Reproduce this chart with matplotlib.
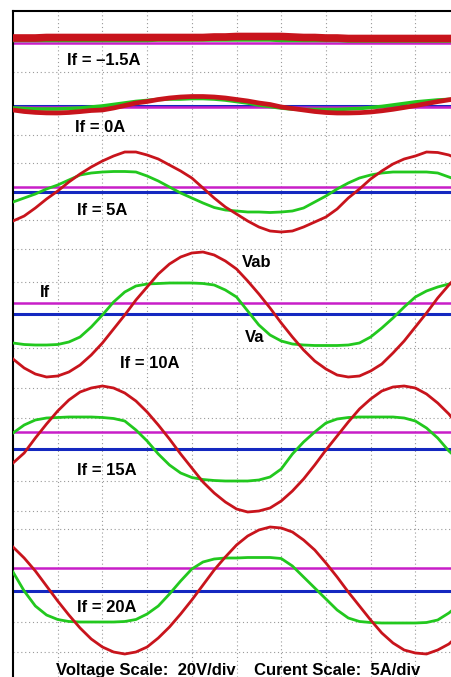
import numpy as np
import matplotlib.pyplot as plt

# time base: 2.5 ms/div, sampled every quarter division
t_ms = np.arange(41) * 0.625

labels = ["If = \u20131.5A", "If = 0A", "If = 5A", "If = 10A", "If = 15A", "If = 20A"]

# screen rows (pixels from top)
vab_n15 = [38, 38, 38, 37.5, 37.5, 37.5, 37.5, 37.5, 37.5, 37.5, 37.5, 37.5, 37.5, 37.5,
           37.5, 37.5, 37.5, 37.5, 37, 37, 36.5, 36.5, 36.5, 36.5, 36.5, 37, 37.5, 37.5,
           38, 38, 38.5, 38.5, 38.5, 38.5, 38.5, 38.5, 38.5, 38.5, 38.5, 38.5, 38.5]
va_n15 = [40.5, 40.5, 40.5, 40.5, 40.5, 40.5, 40.5, 40.5, 40.5, 40.5, 40.5, 40.5, 40.5, 40,
          40, 40, 40, 40, 40, 40, 40, 40, 40, 40, 40.5, 40.5, 40.5, 40.5, 40.5, 40.5, 41,
          41, 41, 41, 41, 41, 41, 41, 41, 41, 41]

vab_0 = [110, 111.5, 112.4, 112.9, 113, 112.5, 111.6, 110.5, 110, 108, 105.5, 103, 101.5,
         99.5, 98, 97, 96.5, 96.5, 97, 98, 99.5, 101, 103, 104.5, 107, 108.5, 110, 111.5,
         112.5, 113, 113, 112.7, 112, 110.8, 109.3, 107.5, 105.6, 103.6, 101.6, 99.8, 98.3]
va_0 = [108, 108.5, 109, 109, 109, 108.5, 108, 107, 106, 104.5, 103, 101.5, 100.5, 99.5,
        99, 99, 98.5, 98.5, 99, 100, 101.5, 103, 105, 106.5, 108, 109, 109.5, 109.5, 109.5,
        109.5, 109, 108.5, 107.5, 106.5, 105, 103.5, 102, 101, 100, 99.5, 99]

vab_5 = [221, 216, 208, 199, 191, 182, 174, 167, 161, 156, 152, 152, 155, 159, 165, 171,
         178, 188, 198, 207, 214, 221, 227, 231, 232, 231, 227, 222, 217, 209, 198, 189,
         179, 171, 164, 159, 156, 152, 152.5, 155, 160]
va_5 = [202, 198, 194, 189, 185, 180, 175, 173, 172, 171.5, 171.5, 172, 176, 181, 187, 193,
        198, 203, 207.5, 210, 211, 212, 212, 212.5, 212, 211, 208, 202, 196, 189, 183, 178,
        175, 173, 172, 172, 172, 172, 173, 177, 181]

vab_10 = [359, 368, 374, 377, 376, 372, 365, 355, 343, 329, 315, 300, 287, 274, 264, 257,
          253, 252, 255, 261, 269, 281, 294, 308, 323, 337, 350, 361, 369, 375, 377, 376,
          371, 364, 353, 341, 327, 313, 298, 285, 273]
va_10 = [343, 344.5, 345, 345, 344.5, 342, 337, 327, 315, 302, 292, 286, 284, 283.5, 283,
         283, 283, 283.5, 285, 290, 297, 311, 325, 335, 341, 344, 345, 345.5, 345.5, 345.5,
         345, 343, 337, 328, 318, 307, 297, 291, 287, 284, 283]

vab_15 = [463, 453, 438, 424, 411, 400, 392, 388, 386, 388, 393, 401, 412, 425, 439, 454,
          468, 482, 493, 502, 509, 512, 511, 508, 501, 491, 479, 465, 450, 436, 422, 409,
          399, 391, 387, 386, 388, 394, 403, 414, 428]
va_15 = [433, 425, 420, 418, 417.5, 417, 417, 417, 417.5, 418.5, 421, 430, 441, 454, 465,
         473, 477.5, 479.5, 480.5, 481, 481, 481, 480, 477, 469, 454, 442, 432, 423, 419,
         417.5, 417, 417, 417, 417, 418, 421, 428, 438, 451, 461]

vab_20 = [547, 558, 571, 586, 601, 615, 628, 639, 647, 652, 654, 652, 647, 638, 627, 614,
          600, 585, 570, 557, 545, 536, 530, 527, 528, 532, 540, 550, 563, 577, 592, 606,
          620, 633, 643, 650, 653, 654, 650, 644, 634]
va_20 = [572, 591, 606, 615, 619.5, 621.5, 622, 622, 622, 622, 621.5, 619.5, 614, 606, 594,
         581, 569, 562, 559, 558, 558, 557.5, 557.5, 557.5, 558.5, 566, 577, 588, 599, 610,
         618, 621.5, 622.5, 623, 623, 623, 623, 622.5, 620, 613, 604]

vab_traces = [vab_n15, vab_0, vab_5, vab_10, vab_15, vab_20]
va_traces = [va_n15, va_0, va_5, va_10, va_15, va_20]
if_level = [43, 107, 187, 302.5, 432, 568]     # magenta
ref_level = [38, 106, 192, 314, 449, 591]      # blue

label_pos = [(3.02, 60), (3.47, 127), (3.58, 210), (5.98, 363), (3.58, 470), (3.58, 607)]
grid_rows = [72, 135, 163, 220, 249, 282, 348, 388, 418, 481, 511, 529, 622, 652]

RED = '#c8141c'
GREEN = '#22c81e'
BLUE = '#1428c0'
MAGENTA = '#c81ec8'

red_lw = [5.5, 3.4, 2.0, 2.0, 2.0, 2.0]
green_lw = [2.5, 2.6, 2.0, 2.0, 2.0, 2.0]

fig = plt.figure(figsize=(4.52, 6.77), dpi=100)
ax = fig.add_axes([13 / 452, 0, 439 / 452, 666 / 677])
ax.set_xlim(0, 24.55)
ax.set_ylim(677, 11)

# scope graticule
for x in np.arange(2.5, 24, 2.5):
    ax.axvline(x, color='#9a9a9a', lw=0.8, ls=(0, (1, 2.5)), zorder=0)
for y in grid_rows:
    ax.axhline(y, color='#9a9a9a', lw=0.8, ls=(0, (1, 2.5)), zorder=0)

txt = dict(fontsize=12, fontweight='bold', family='Liberation Sans', va='center', zorder=5)

for i in range(6):
    ax.axhline(ref_level[i], color=BLUE, lw=2.2, zorder=2)
    ax.axhline(if_level[i], color=MAGENTA, lw=1.8, zorder=2)
    ax.plot(t_ms, va_traces[i], color=GREEN, lw=green_lw[i], zorder=3)
    ax.plot(t_ms, vab_traces[i], color=RED, lw=red_lw[i], zorder=4)
    ax.text(label_pos[i][0], label_pos[i][1], labels[i], ha='left', **txt)

ax.text(12.81, 262, 'Vab', ha='left', **txt)
ax.text(12.98, 337, 'Va', ha='left', **txt)
ax.text(1.51, 292, 'If', ha='left', **txt)
ax.text(12.61, 670, 'Voltage Scale:  20V/div    Curent Scale:  5A/div', ha='center', **txt)

ax.set_xticks([])
ax.set_yticks([])
for s in ['right', 'bottom']:
    ax.spines[s].set_visible(False)
ax.spines['top'].set_linewidth(1.5)
ax.spines['left'].set_linewidth(1.5)

fig.savefig('out.png', dpi=100)
